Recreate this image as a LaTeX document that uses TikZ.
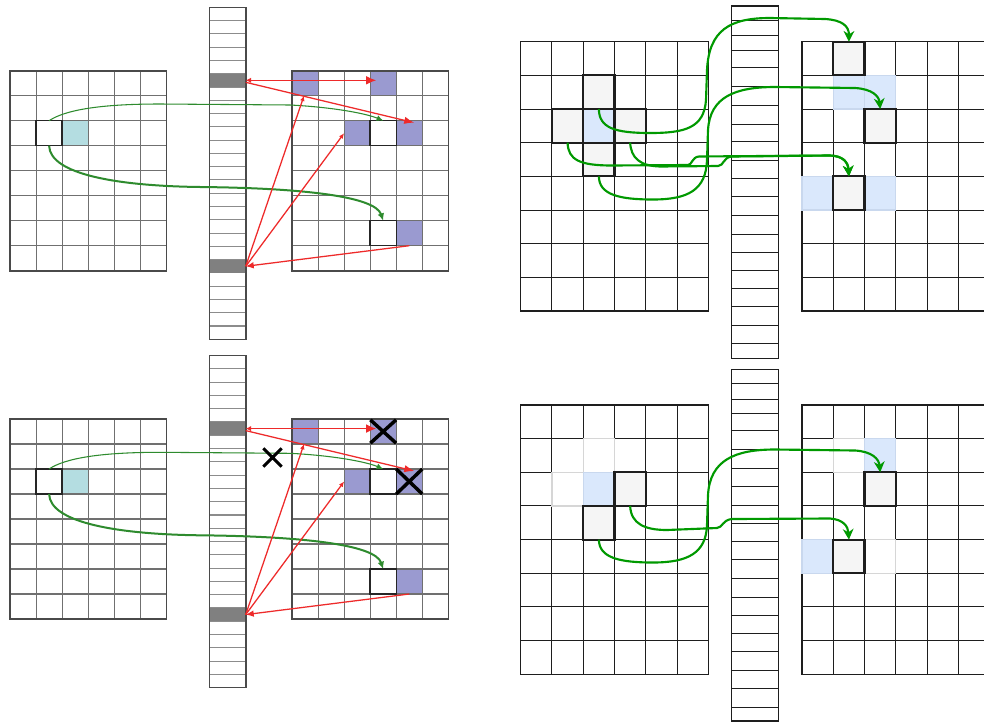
\documentclass[tikz,border=0pt]{standalone}
\usetikzlibrary{arrows.meta,calc,shapes.misc}

\definecolor{lgridc}{HTML}{707070}
\definecolor{lbordc}{HTML}{4A4A4A}
\definecolor{lstripc}{HTML}{8C8C8C}
\definecolor{darkslot}{HTML}{808080}
\definecolor{cyanfill}{HTML}{B4DDE1}
\definecolor{purplefill}{HTML}{9A9AD0}
\definecolor{linkred}{HTML}{EE2A2A}
\definecolor{linkgreen}{HTML}{2E8B2E}
\definecolor{rgridc}{HTML}{1E1E1E}
\definecolor{cellgray}{HTML}{F5F5F5}
\definecolor{cellblue}{HTML}{DAE8FC}
\definecolor{cellblueedge}{HTML}{C9D8EE}
\definecolor{fadeedge}{HTML}{D6D6D6}
\definecolor{flowgreen}{HTML}{009900}

% cell sizes (drawing units)
\def\lcw{26.06}\def\lch{25}
\def\rcw{31.27}\def\rch{33.66}

% 6 x 8 grid: x0, y0, cell w, cell h, inner line style, border style
\newcommand{\cellgrid}[6]{%
  \foreach \i in {1,...,5}{\draw[#5] ({#1+\i*#3},{#2}) -- ({#1+\i*#3},{#2+8*#4});}
  \foreach \j in {1,...,7}{\draw[#5] ({#1},{#2+\j*#4}) -- ({#1+6*#3},{#2+\j*#4});}
  \draw[#6] ({#1},{#2}) rectangle ({#1+6*#3},{#2+8*#4});}

% named cell: style, name, grid x0, grid y0, column, row
\newcommand{\lcell}[6]{\node[#1,lsize] (#2) at ({#3+(#5+0.5)*\lcw},{#4+(#6+0.5)*\lch}) {};}
\newcommand{\rcell}[6]{\node[#1,rsize] (#2) at ({#3+(#5+0.5)*\rcw},{#4+(#6+0.5)*\rch}) {};}

\tikzset{
  lsize/.style={minimum width=19.55pt, minimum height=18.75pt, inner sep=0pt, outer sep=0pt},
  rsize/.style={minimum width=23.45pt, minimum height=25.25pt, inner sep=0pt, outer sep=0pt},
  lgline/.style={draw=lgridc, line width=0.8pt},
  lgborder/.style={draw=lbordc, line width=1.2pt},
  lstripline/.style={draw=lstripc, line width=0.8pt},
  lstripborder/.style={draw=lbordc, line width=1.2pt},
  rgline/.style={draw=rgridc, line width=0.75pt},
  rgborder/.style={draw=rgridc, line width=0.85pt},
  wcell/.style={fill=white, draw=black!85, line width=1.1pt},
  cyancell/.style={fill=cyanfill},
  purplecell/.style={fill=purplefill},
  darkcell/.style={fill=darkslot, minimum width=27.3pt, minimum height=9.96pt, inner sep=0pt, outer sep=0pt},
  graycell/.style={fill=cellgray, draw=rgridc, line width=1.6pt},
  bluecell/.style={fill=cellblue, draw=cellblueedge, line width=0.8pt},
  fadecell/.style={fill=white, draw=fadeedge, line width=0.8pt},
  redlink/.style={draw=linkred, line width=0.95pt},
  greenthin/.style={draw=linkgreen, line width=0.8pt, -{Latex[length=5pt,width=4.5pt]}},
  greenthick/.style={draw=linkgreen, line width=1.5pt, -{Latex[length=5.5pt,width=5pt]}},
  flow/.style={draw=flowgreen, line width=1.6pt, -{Stealth[length=8pt,width=8pt,inset=2.5pt]}},
  xmark/.style={draw=black, cross out, inner sep=0pt, outer sep=0pt},
}

% left-hand panel: name prefix, vertical offset
\newcommand{\lpanel}[2]{%
  \def\oy{#2}%
  \lcell{cyancell}{#1cy}{10}{70.7+\oy}{2}{2}
  \lcell{purplecell}{#1p00}{292}{70.7+\oy}{0}{0}
  \lcell{purplecell}{#1p30}{292}{70.7+\oy}{3}{0}
  \lcell{purplecell}{#1p22}{292}{70.7+\oy}{2}{2}
  \lcell{purplecell}{#1p42}{292}{70.7+\oy}{4}{2}
  \lcell{purplecell}{#1p46}{292}{70.7+\oy}{4}{6}
  \cellgrid{10}{70.7+\oy}{\lcw}{\lch}{lgline}{lgborder}
  \cellgrid{292}{70.7+\oy}{\lcw}{\lch}{lgline}{lgborder}
  \lcell{wcell}{#1src}{10}{70.7+\oy}{1}{2}
  \lcell{wcell}{#1dst}{292}{70.7+\oy}{3}{2}
  \lcell{wcell}{#1dsu}{292}{70.7+\oy}{3}{6}
  % index strip
  \draw[lstripline] \foreach \k in {1,...,24}{(209.3,{7.3+\oy+\k*13.28}) -- ++(36.4,0)};
  \node[darkcell] (#1s1) at (227.5,{80.3+\oy}) {};
  \node[darkcell] (#1s2) at (227.5,{266.3+\oy}) {};
  \draw[lstripborder] (209.3,{7.3+\oy}) rectangle (245.7,{339.3+\oy});
  % green links
  \draw[greenthin] (#1src.north) .. controls (65,{110+\oy}) and (100,{104+\oy}) .. (160,{104+\oy})
     -- (290,{105+\oy}) .. controls (330,{107+\oy}) and (365,{113+\oy}) .. (#1dst.north);
  \draw[greenthick] (#1src.south) .. controls (50,{175+\oy}) and (120,{186+\oy}) .. (200,{187+\oy})
     .. controls (300,{188+\oy}) and (375,{196+\oy}) .. (#1dsu.north);
  % red links
  \draw[redlink, {Latex[length=4pt,width=4pt]}-{Latex[length=7.5pt,width=6.5pt]}]
     (#1s1.east) -- ($(#1s1.east -| #1p30.west)+(6,0)$);
  \draw[redlink, -{Latex[length=7.5pt,width=5.5pt]}] ($(#1s1.east)+(0,2)$) -- ($(#1p42.north)+(5,2)$);
  \draw[redlink, -{Latex[length=4pt,width=3.5pt]}] (#1s2.east) -- ($(#1p00.south)+(-1,0)$);
  \draw[redlink, -{Latex[length=4pt,width=3.5pt]}] (#1s2.east) -- (#1p22.west);
  \draw[redlink, -{Latex[length=6pt,width=5pt]}] (#1p46.south) -- (#1s2.east);
}

\begin{document}
\begin{tikzpicture}[x=0.75pt,y=-0.75pt]
\useasboundingbox (0,0) rectangle (984,721);
\clip (0,0) rectangle (984,721);
\fill[white] (0,0) rectangle (984,721);

% ---------- left column: two lookup panels ----------
\lpanel{a}{0}
\lpanel{b}{348.3}
\node[xmark, line width=2.6pt, minimum width=19.3pt, minimum height=17.5pt] (bx1) at (bp30.center) {};
\node[xmark, line width=2.6pt, minimum width=19.5pt, minimum height=18.7pt] (bx2) at (bp42.center) {};
\node[xmark, line width=2.2pt, minimum size=13.7pt] (bx3) at (272.5,457.5) {};

% ---------- right column, upper panel ----------
\cellgrid{520.7}{41.7}{\rcw}{\rch}{rgline}{rgborder}
\cellgrid{802}{41.7}{\rcw}{\rch}{rgline}{rgborder}
\rcell{bluecell}{trb22}{520.7}{41.7}{2}{2}
\rcell{bluecell}{trb11}{802}{41.7}{1}{1}
\rcell{bluecell}{trb21}{802}{41.7}{2}{1}
\rcell{bluecell}{trb04}{802}{41.7}{0}{4}
\rcell{bluecell}{trb24}{802}{41.7}{2}{4}
\rcell{graycell}{trg21}{520.7}{41.7}{2}{1}
\rcell{graycell}{trg12}{520.7}{41.7}{1}{2}
\rcell{graycell}{trg32}{520.7}{41.7}{3}{2}
\rcell{graycell}{trg23}{520.7}{41.7}{2}{3}
\rcell{graycell}{trt10}{802}{41.7}{1}{0}
\rcell{graycell}{trt22}{802}{41.7}{2}{2}
\rcell{graycell}{trt14}{802}{41.7}{1}{4}
\draw[rgline] \foreach \yy in {20.7,35.7,50,67.7,86,105,124,141.7,160,178.3,196.7,215.7,234.3,252.3,270.7,288.3,306,325,343.3}{(731.7,\yy) -- (778.3,\yy)};
\draw[rgborder] (731.7,6) rectangle (778.3,358.3);

\draw[flow] (trb22.north) .. controls (599,128) and (615,133) .. (650,133)
  .. controls (685,133) and (704,128) .. (706,100) -- (707,70)
  .. controls (709,30) and (730,18) .. (770,18) -- (825,19)
  .. controls (842,20) and (849,26) .. (trt10.north);
\draw[flow] (trg23.south) .. controls (599,195) and (620,199.5) .. (653,199.5)
  .. controls (688,199.5) and (706,190) .. (707,160) -- (708,130)
  .. controls (710,97) and (735,87) .. (775,87) -- (855,88)
  .. controls (872,89) and (879,96) .. (trt22.north);
\draw[flow] (trg12.south) .. controls (568,160) and (580,165.5) .. (612,165.5) -- (688,165)
  .. controls (692,165) and (692,157) .. (699,156.5) -- (830,155.5)
  .. controls (843,156) and (848,162) .. (trt14.north);
\draw[flow] (trg32.south) .. controls (631,158) and (640,166) .. (660,166.5) -- (718,166)
  .. controls (724,166) and (723,157) .. (732,156.5) -- (830,155.5)
  .. controls (843,156) and (848,162) .. (trt14.north);

% ---------- right column, lower panel ----------
\cellgrid{520.7}{405}{\rcw}{\rch}{rgline}{rgborder}
\cellgrid{802}{405}{\rcw}{\rch}{rgline}{rgborder}
\rcell{fadecell}{brf12}{520.7}{405}{1}{2}
\rcell{fadecell}{brf21}{520.7}{405}{2}{1}
\rcell{fadecell}{brf11}{802}{405}{1}{1}
\rcell{fadecell}{brf24}{802}{405}{2}{4}
\rcell{bluecell}{brb22}{520.7}{405}{2}{2}
\rcell{bluecell}{brb21}{802}{405}{2}{1}
\rcell{bluecell}{brb04}{802}{405}{0}{4}
\rcell{graycell}{brg32}{520.7}{405}{3}{2}
\rcell{graycell}{brg23}{520.7}{405}{2}{3}
\rcell{graycell}{brt22}{802}{405}{2}{2}
\rcell{graycell}{brt14}{802}{405}{1}{4}
\draw[rgline] \foreach \yy in {383.3,399.3,413.3,430.7,449.3,468.3,486.7,505,523.3,541.7,559.3,578.3,597.3,615,633.3,651,670,688.3,707.3}{(731.7,\yy) -- (778.3,\yy)};
\draw[rgborder] (731.7,369.3) rectangle (778.3,721);

\draw[flow] (brg23.south) .. controls (599,558) and (620,562.5) .. (653,562.5)
  .. controls (688,562.5) and (706,553) .. (707,525) -- (708,495)
  .. controls (710,460) and (735,449.5) .. (775,449.5) -- (855,450.5)
  .. controls (872,451.5) and (879,459) .. (brt22.north);
\draw[flow] (brg32.south) .. controls (631,524) and (645,530) .. (667,530) -- (717,528)
  .. controls (723,527.5) and (722,520) .. (732,519) -- (830,518.5)
  .. controls (843,519.5) and (848,526) .. (brt14.north);
\end{tikzpicture}
\end{document}
